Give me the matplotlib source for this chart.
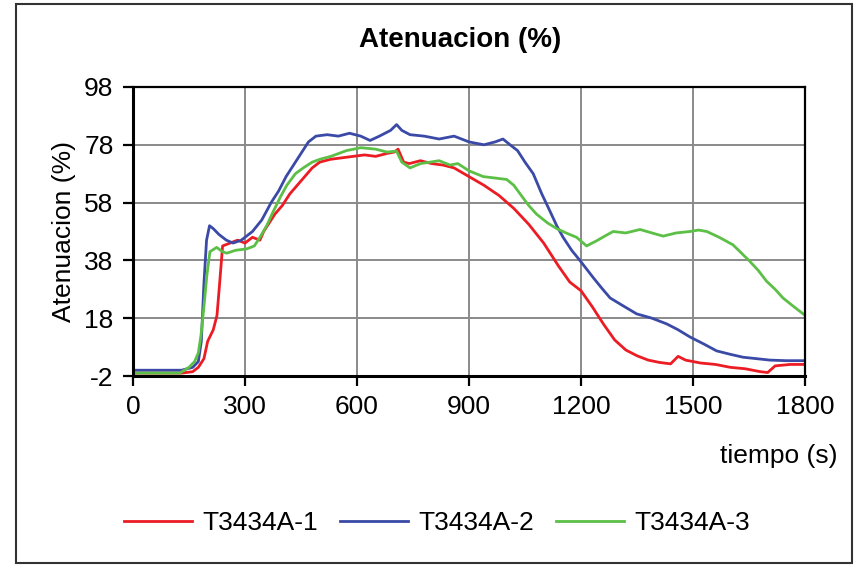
import matplotlib.pyplot as plt
from matplotlib import font_manager
from matplotlib.patches import Rectangle

# datos
t_1 = [0, 130, 160, 175, 190, 200, 215, 225, 232, 240, 260, 280, 300, 320, 340, 350,
       365, 380, 400, 420, 440, 460, 480, 500, 530, 560, 590, 620, 650, 680, 700, 710,
       725, 740, 770, 800, 830, 860, 900, 940, 980, 1020, 1060, 1100, 1140, 1170, 1200,
       1230, 1260, 1290, 1320, 1350, 1380, 1410, 1440, 1460, 1480, 1520, 1560, 1600,
       1640, 1680, 1700, 1720, 1760, 1800]
a_1 = [-1, -1, -0.5, 1, 4, 10, 14, 19, 30, 43, 44, 45, 44, 46, 45, 48,
       51, 54, 57, 61, 64, 67, 70, 72, 73, 73.5, 74, 74.5, 74, 75, 75.5, 76.5,
       72, 71.5, 72.5, 71.5, 71, 70, 67, 64, 60.5, 56, 50.5, 44, 36, 30.5, 27.5,
       22, 16, 10.5, 7, 5, 3.5, 2.7, 2.2, 4.8, 3.5, 2.5, 2, 1,
       0.5, -0.5, -0.8, 1.5, 2, 2]

t_2 = [0, 130, 160, 175, 183, 190, 197, 205, 215, 230, 250, 268, 290, 320, 345, 370,
       390, 410, 430, 450, 470, 490, 520, 550, 580, 610, 635, 660, 690, 706, 720, 742,
       780, 820, 860, 900, 940, 970, 991, 1010, 1030, 1050, 1072, 1095, 1117, 1135,
       1152, 1175, 1197, 1215, 1233, 1255, 1278, 1310, 1349, 1390, 1430, 1460, 1492,
       1530, 1563, 1600, 1634, 1670, 1706, 1750, 1800]
a_2 = [0, 0, 1, 3, 10, 30, 45, 50, 49, 47, 45, 44, 45, 48, 52, 58,
       62, 67, 71, 75, 79, 81, 81.5, 81, 82, 81, 79.5, 81, 83, 85, 83, 81.5,
       81, 80, 81, 79, 78, 79, 80, 78, 76, 72, 68, 61, 55, 50,
       46, 41.5, 38, 35, 32, 28.5, 25, 22.5, 19.5, 18, 16, 14, 11.5,
       9, 6.7, 5.5, 4.5, 4, 3.5, 3.3, 3.3]

t_3 = [0, 125, 150, 165, 175, 182, 190, 198, 206, 224, 240, 251, 275, 305, 325, 340,
       358, 376, 395, 412, 435, 456, 480, 501, 530, 572, 610, 650, 680, 706, 720, 742,
       770, 796, 820, 849, 870, 900, 938, 970, 1001, 1020, 1037, 1060, 1081, 1110,
       1135, 1160, 1188, 1215, 1242, 1265, 1286, 1320, 1358, 1390, 1420, 1455, 1492,
       1515, 1537, 1570, 1607, 1630, 1652, 1675, 1697, 1720, 1741, 1770, 1800]
a_3 = [-1, -1, 1, 3, 6, 12, 22, 33, 41, 42.5, 41, 40.5, 41.5, 42, 43, 46,
       50, 55, 60, 64, 68, 70, 72, 73, 74, 76, 77, 76.5, 75.5, 75.8, 72, 70,
       71.5, 72, 72.5, 71, 71.5, 69, 67, 66.5, 66, 64, 61, 57, 54, 51,
       49, 47.5, 46, 43, 44.8, 46.5, 48, 47.5, 48.7, 47.5, 46.4, 47.5, 48,
       48.5, 48, 46, 43.4, 40.5, 37.7, 34.5, 30.8, 28, 25, 22, 19]

series = ["T3434A-1", "T3434A-2", "T3434A-3"]
colores = ["#ec1c24", "#3a4aa6", "#5cbf46"]
x_ticks = [0, 300, 600, 900, 1200, 1500, 1800]
y_ticks = [-2, 18, 38, 58, 78, 98]

# fuente
nombres = {f.name for f in font_manager.fontManager.ttflist}
fuente = "Liberation Sans" if "Liberation Sans" in nombres else "DejaVu Sans"
plt.rcParams["font.family"] = [fuente, "DejaVu Sans"]
plt.rcParams["axes.unicode_minus"] = False

fig = plt.figure(figsize=(8.56, 5.65), dpi=100)
ax = fig.add_axes([133 / 856, 1 - 376 / 565, 672 / 856, 289 / 565])

for t, a, nombre, c in zip([t_1, t_2, t_3], [a_1, a_2, a_3], series, colores):
    ax.plot(t, a, color=c, lw=2.0, label=nombre)

ax.set_xlim(0, 1800)
ax.set_ylim(-2, 98)
ax.set_xticks(x_ticks)
ax.set_yticks(y_ticks)
ax.grid(True, color="#8a8a8a", lw=1.4)
ax.set_axisbelow(True)
for s in ax.spines.values():
    s.set_color("black")
    s.set_linewidth(1.6)
ax.spines["left"].set_linewidth(2.2)
ax.spines["bottom"].set_linewidth(2.2)
ax.tick_params(direction="out", length=7, width=1.6, labelsize=19, pad=7)

ax.set_ylabel("Atenuacion (%)", fontsize=19, labelpad=6)
fig.text(838 / 856, 1 - 456 / 565, "tiempo (s)", fontsize=19, ha="right", va="center")
fig.text(460 / 856, 1 - 40 / 565, "Atenuacion (%)", fontsize=20, fontweight="bold",
         ha="center", va="center")

fig.legend(loc="center", bbox_to_anchor=(437 / 856, 1 - 523 / 565), ncol=3,
           frameon=False, fontsize=19, handlelength=2.6, handletextpad=0.4,
           columnspacing=0.8)

# marco exterior
fig.patches.append(Rectangle((16 / 856, 1 - 563 / 565), 836 / 856, 559 / 565,
                             transform=fig.transFigure, fill=False,
                             edgecolor="#333333", lw=1.5))

fig.savefig("out.png", dpi=100)
